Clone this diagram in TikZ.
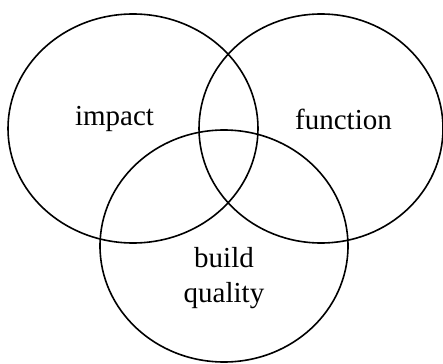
\documentclass[tikz,border=0pt]{standalone}
\usepackage{fontspec}
\setmainfont{Liberation Serif}
\begin{document}
\begin{tikzpicture}[x=1pt,y=-1pt,
  venn/.style={draw=black,line width=1.6pt},
  lbl/.style={font=\fontsize{29}{35}\selectfont,inner sep=0pt,align=center}]
\useasboundingbox (0,0) rectangle (443,363);
\draw[venn] (133,128.5) ellipse [x radius=125, y radius=114.5];
\draw[venn] (321,128.5) ellipse [x radius=122, y radius=114.5];
\draw[venn] (224,246) ellipse [x radius=124, y radius=116];
\node[lbl] (impact) at (114.5,119) {impact};
\node[lbl] (function) at (343.5,119) {function};
\node[lbl] (build) at (224,278) {build\\quality};
\end{tikzpicture}
\end{document}
